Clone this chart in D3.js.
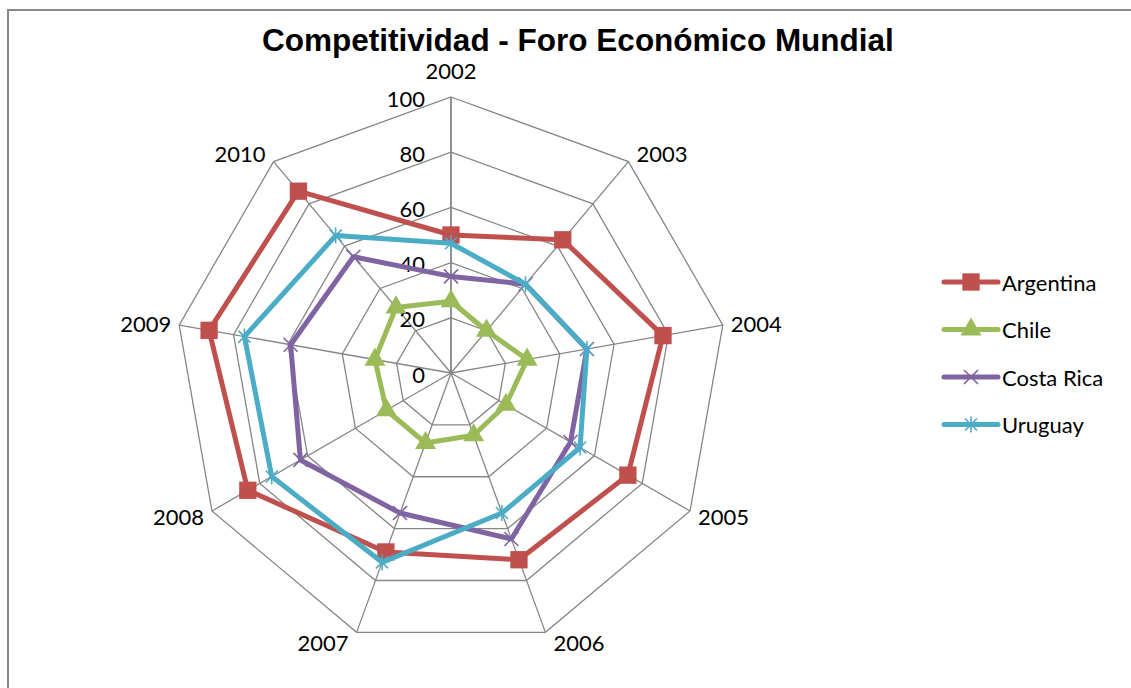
<!DOCTYPE html>
<html>
<head>
<meta charset="utf-8">
<script src="https://cdn.jsdelivr.net/npm/d3@7"></script>
<style>
  body { margin: 0; background: #fff; }
  text { font-family: Lato, "Open Sans", sans-serif; fill: #000; }
</style>
</head>
<body>
<script>
// data
var years = ["2002", "2003", "2004", "2005", "2006", "2007", "2008", "2009", "2010"];
var ticks = [0, 20, 40, 60, 80, 100];
var argentina = [50, 63, 78, 74, 72, 69, 85, 89, 86];
var chile     = [26, 20, 28, 23, 24, 27, 27, 28, 31];
var costaRica = [35, 42, 50, 50, 64, 54, 63, 59, 55];
var uruguay   = [47, 42, 50, 54, 54, 73, 75, 76, 65];

var series = [
  {name: "Argentina",  values: argentina, color: "#C0504D", marker: "square"},
  {name: "Chile",      values: chile,     color: "#9BBB59", marker: "triangle"},
  {name: "Costa Rica", values: costaRica, color: "#8064A2", marker: "times"},
  {name: "Uruguay",    values: uruguay,   color: "#4BACC6", marker: "star"}
];

var width = 1131, height = 688;
var cx = 451, cy = 373, R = 276;

var svg = d3.select("body").append("svg")
    .attr("width", width)
    .attr("height", height);

// chart frame (cut off at right and bottom like the picture)
svg.append("path")
    .attr("d", "M8,700 L8,10 L1140,10")
    .attr("fill", "none")
    .attr("stroke", "#888")
    .attr("stroke-width", 2);

svg.append("text")
    .attr("x", 578)
    .attr("y", 51)
    .attr("text-anchor", "middle")
    .style("font-family", "'Liberation Sans', Arial, sans-serif")
    .style("font-weight", "bold")
    .style("font-size", "31.5px")
    .text("Competitividad - Foro Económico Mundial");

var r = d3.scaleLinear().domain([0, 100]).range([0, R]);
var angle = d3.scaleLinear().domain([0, years.length]).range([0, 2 * Math.PI]);

function pt(i, v) {
  var a = angle(i);
  return [cx + r(v) * Math.sin(a), cy - r(v) * Math.cos(a)];
}

var g = svg.append("g");

// grid polygons
ticks.slice(1).forEach(function(t) {
  g.append("path")
    .attr("d", d3.line()(years.map(function(y, i) { return pt(i, t); })) + "Z")
    .attr("fill", "none")
    .attr("stroke", "#868686")
    .attr("stroke-width", 1.3);
});

// spokes
years.forEach(function(y, i) {
  var p = pt(i, 100);
  g.append("line")
    .attr("x1", cx).attr("y1", cy)
    .attr("x2", p[0]).attr("y2", p[1])
    .attr("stroke", "#868686")
    .attr("stroke-width", i == 0 ? 1.8 : 1.3);
});

// tick labels along the first axis
g.selectAll("text.tick")
  .data(ticks)
  .enter().append("text")
    .attr("class", "tick")
    .attr("x", cx - 26)
    .attr("y", function(d) { return cy - r(d) + 1; })
    .attr("text-anchor", "end")
    .attr("dominant-baseline", "central")
    .style("font-size", "22px")
    .text(function(d) { return d; });

// axis (category) labels
years.forEach(function(y, i) {
  var p = pt(i, 100);
  var a = angle(i), s = Math.sin(a), c = Math.cos(a);
  var lx = p[0] + (Math.abs(s) < 0.01 ? 0 : (s > 0 ? 8 : -8));
  var ly = i == 0 ? p[1] - 27 : p[1] - c * 11;
  g.append("text")
    .attr("x", lx)
    .attr("y", ly)
    .attr("text-anchor", Math.abs(s) < 0.01 ? "middle" : (s > 0 ? "start" : "end"))
    .attr("dominant-baseline", "central")
    .style("font-size", "22px")
    .text(y);
});

function markerPath(type) {
  if (type == "square") return d3.symbol(d3.symbolSquare, 300)();
  if (type == "triangle") return d3.symbol(d3.symbolTriangle, 190)();
  if (type == "times") return "M-7,-7L7,7M-7,7L7,-7";
  return "M0,-8L0,8M-6,-6L6,6M-6,6L6,-6";
}

function drawMarker(sel, s) {
  var filled = s.marker == "square" || s.marker == "triangle";
  sel.append("path")
    .attr("d", markerPath(s.marker))
    .attr("fill", filled ? s.color : "none")
    .attr("stroke", s.color)
    .attr("stroke-width", filled ? 0 : 1.6);
}

var radial = d3.lineRadial()
    .angle(function(d, i) { return angle(i); })
    .radius(function(d) { return r(d); })
    .curve(d3.curveLinearClosed);

var plot = g.append("g").attr("transform", "translate(" + cx + "," + cy + ")");

series.forEach(function(s) {
  plot.append("path")
    .attr("d", radial(s.values))
    .attr("fill", "none")
    .attr("stroke", s.color)
    .attr("stroke-width", 5)
    .attr("stroke-linejoin", "round");
  s.values.forEach(function(v, i) {
    var a = angle(i);
    var m = plot.append("g")
      .attr("transform", "translate(" + (r(v) * Math.sin(a)) + "," + (-r(v) * Math.cos(a)) + ")");
    drawMarker(m, s);
  });
});

// legend
var legend = svg.append("g");
series.forEach(function(s, i) {
  var y = 282 + i * 47.5;
  legend.append("line")
    .attr("x1", 944).attr("x2", 998)
    .attr("y1", y).attr("y2", y)
    .attr("stroke", s.color)
    .attr("stroke-width", 5)
    .attr("stroke-linecap", "round");
  var m = legend.append("g").attr("transform", "translate(971," + y + ")");
  drawMarker(m, s);
  legend.append("text")
    .attr("x", 1002)
    .attr("y", y)
    .attr("dominant-baseline", "central")
    .style("font-size", "22px")
    .text(s.name);
});
</script>
</body>
</html>
